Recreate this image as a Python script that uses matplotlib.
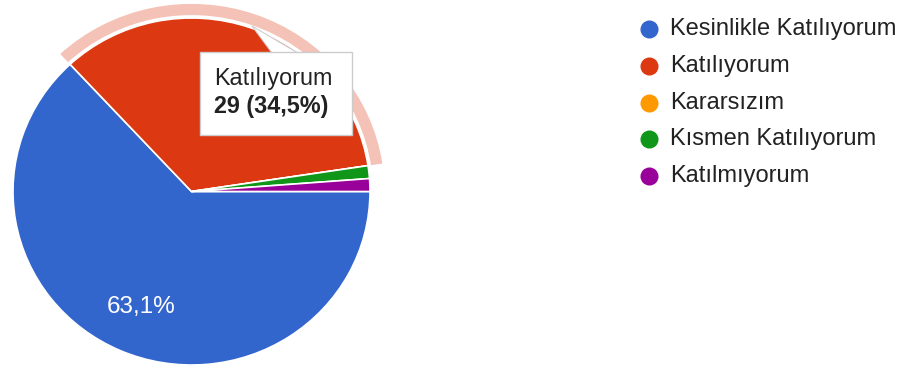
import matplotlib
matplotlib.use("Agg")
import matplotlib.pyplot as plt
from matplotlib.patches import Wedge, Rectangle, Polygon

plt.rcParams['font.family'] = ['Liberation Sans', 'DejaVu Sans']

# Survey answers and response counts
categories = ["Kesinlikle Katılıyorum", "Katılıyorum", "Kararsızım",
              "Kısmen Katılıyorum", "Katılmıyorum"]
counts = [53, 29, 0, 1, 1]
colors = ["#3366CC", "#DC3912", "#FF9900", "#109618", "#990099"]
highlight = 1  # slice shown with hover ring and tooltip

W, H = 904, 369
SY = 0.972  # vertical pixels per data unit (chart is slightly squashed)
fig = plt.figure(figsize=(W / 100, H / 100), dpi=100)
ax = fig.add_axes([0, 0, 1, 1])


def Y(py):
    """Pixel row -> data y."""
    return py / SY


cx, cy, R = 191.5, Y(191.5), 178.5
total = sum(counts)

# y axis runs downward, so counterclock=True turns visually clockwise
wedges, _ = ax.pie(counts, colors=colors, center=(cx, cy), radius=R,
                   startangle=0, counterclock=True,
                   wedgeprops=dict(edgecolor="white", linewidth=1.2))
ax.set_xlim(0, W)
ax.set_ylim(Y(H), 0)
ax.set_aspect("auto")
ax.axis("off")

# Hover ring around the highlighted slice
hw = wedges[highlight]
ax.add_patch(Wedge((cx, cy), R + 14.5, hw.theta1, hw.theta2, width=11.5,
                   facecolor="#F4C2B6", edgecolor="none", zorder=1))

# Percentage label inside the largest slice
big = counts[0] / total * 100
ax.text(141, Y(307), f"{big:.1f}%".replace(".", ","), color="white",
        fontsize=17.5, ha="center", va="center")

# Tooltip for the highlighted slice
share = counts[highlight] / total * 100
ax.add_patch(Polygon([(252, Y(26)), (272, Y(53)), (298, Y(53))], closed=True,
                     facecolor="white", edgecolor="#d0d0d0", linewidth=0.8,
                     zorder=5))
ax.add_patch(Rectangle((200, Y(52)), 152, Y(135) - Y(52),
                       facecolor="white", edgecolor="#cccccc",
                       linewidth=1.0, zorder=6))
ax.text(214, Y(78), categories[highlight], fontsize=16.8, color="#222222",
        ha="left", va="center", zorder=7)
ax.text(214, Y(107), f"{counts[highlight]} ({share:.1f}%)".replace(".", ","),
        fontsize=16.8, fontweight="bold", color="#222222",
        ha="left", va="center", zorder=7)

# Legend
ly0, ldy = 29, 36.8
for i, (name, col) in enumerate(zip(categories, colors)):
    y = Y(ly0 + i * ldy)
    ax.plot(649, y, "o", markersize=13, color=col, markeredgewidth=0)
    ax.text(670, y, name, fontsize=17, color="#222222",
            ha="left", va="center")

fig.savefig("out.png", dpi=100, facecolor="white")
